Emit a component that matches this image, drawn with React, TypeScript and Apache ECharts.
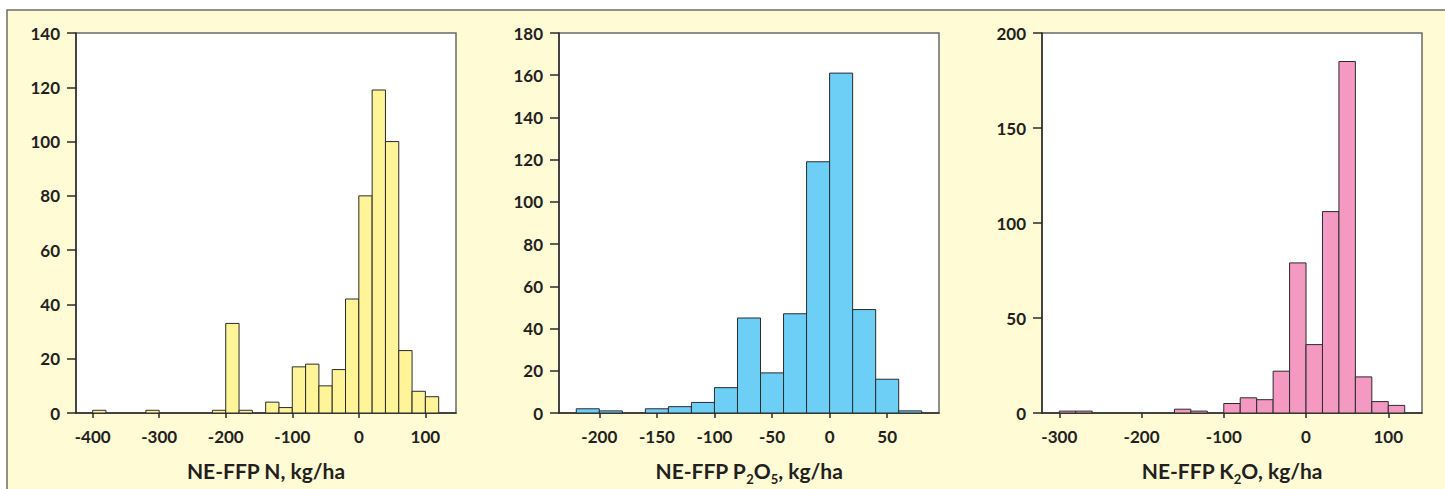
import React, { useEffect, useRef } from "react";
import * as echarts from "echarts";

const BIN = 20;

// Panel 1: N
const nBinStarts = [-400, -320, -220, -200, -180, -140, -120, -100, -80, -60, -40, -20, 0, 20, 40, 60, 80, 100];
const nCounts = [1, 1, 1, 33, 1, 4, 2, 17, 18, 10, 16, 42, 80, 119, 100, 23, 8, 6];
const nXTicks = [-400, -300, -200, -100, 0, 100];

// Panel 2: P2O5
const pBinStarts = [-220, -200, -160, -140, -120, -100, -80, -60, -40, -20, 0, 20, 40, 60];
const pCounts = [2, 1, 2, 3, 5, 12, 45, 19, 47, 119, 161, 49, 16, 1];
const pXTicks = [-200, -150, -100, -50, 0, 50];

// Panel 3: K2O
const kBinStarts = [-300, -280, -160, -140, -100, -80, -60, -40, -20, 0, 20, 40, 60, 80, 100];
const kCounts = [1, 1, 2, 1, 5, 8, 7, 22, 79, 36, 106, 185, 19, 6, 4];
const kXTicks = [-300, -200, -100, 0, 100];

const FONT = "Lato, 'Noto Sans', sans-serif";
const TXT = "#231f20";

export default function App() {
  const ref = useRef<HTMLDivElement>(null);

  useEffect(() => {
    if (!ref.current) return;
    const chart = echarts.init(ref.current, undefined, { renderer: "svg" });

    const panels = [
      { starts: nBinStarts, counts: nCounts, ticks: nXTicks, min: -425, max: 146, yMax: 140, yInt: 20, color: "#fff497", name: "NE-FFP N, kg/ha", left: 76 },
      { starts: pBinStarts, counts: pCounts, ticks: pXTicks, min: -235, max: 95, yMax: 180, yInt: 20, color: "#6dcff6", name: "NE-FFP P{s|2}O{s|5}, kg/ha", left: 559 },
      { starts: kBinStarts, counts: kCounts, ticks: kXTicks, min: -321, max: 141, yMax: 200, yInt: 50, color: "#f49ac2", name: "NE-FFP K{s|2}O, kg/ha", left: 1042 },
    ];

    const grid = panels.map((p) => ({
      left: p.left,
      top: 33,
      width: 380,
      height: 380,
      outerBoundsMode: "none",
      containLabel: false,
      show: true,
      backgroundColor: "#ffffff",
      borderColor: "#6a6a6a",
      borderWidth: 1.5,
    }));

    const xAxis = panels.map((p, i) => ({
      type: "value",
      gridIndex: i,
      min: p.min,
      max: p.max,
      name: p.name,
      nameLocation: "middle",
      nameGap: 42,
      nameTextStyle: {
        fontFamily: FONT,
        fontSize: 21,
        fontWeight: "bold",
        color: TXT,
        lineHeight: 30,
        rich: {
          s: { fontFamily: FONT, fontSize: 13, fontWeight: "bold", color: TXT, lineHeight: 10, verticalAlign: "bottom" },
        },
      },
      splitLine: { show: false },
      axisLine: { show: true, onZero: false, lineStyle: { color: "#2b2b2b", width: 1.5 } },
      axisTick: { show: true, length: 5, customValues: p.ticks, lineStyle: { color: "#2b2b2b", width: 1.5 } },
      axisLabel: { customValues: p.ticks, margin: 15, fontFamily: FONT, fontSize: 17, fontWeight: "bold", color: TXT },
    }));

    const yAxis = panels.map((p, i) => ({
      type: "value",
      gridIndex: i,
      min: 0,
      max: p.yMax,
      interval: p.yInt,
      splitLine: { show: false },
      axisLine: { show: true, onZero: false, lineStyle: { color: "#2b2b2b", width: 1.5 } },
      axisTick: { show: true, length: 9, lineStyle: { color: "#2b2b2b", width: 1.5 } },
      axisLabel: { margin: 16, fontFamily: FONT, fontSize: 17, fontWeight: "bold", color: TXT },
    }));

    const series = panels.map((p, i) => ({
      type: "custom",
      xAxisIndex: i,
      yAxisIndex: i,
      encode: { x: 0, y: 1 },
      data: p.starts.map((s, j) => [s, p.counts[j]]),
      renderItem: (params: any, api: any) => {
        const x0 = api.value(0);
        const c = api.value(1);
        const a = api.coord([x0, c]);
        const b = api.coord([x0 + BIN, 0]);
        return {
          type: "rect",
          shape: { x: a[0], y: a[1], width: b[0] - a[0], height: b[1] - a[1] },
          style: { fill: p.color, stroke: "#2b2b2b", lineWidth: 1 },
        };
      },
    }));

    chart.setOption({
      animation: false,
      backgroundColor: "#ffffff",
      graphic: [
        {
          type: "rect",
          z: -10,
          silent: true,
          shape: { x: 7, y: 10, width: 1460, height: 500 },
          style: { fill: "#fffbd5", stroke: "#6e6e66", lineWidth: 1.5 },
        },
      ],
      grid,
      xAxis,
      yAxis,
      series,
    });

    return () => chart.dispose();
  }, []);

  return (
    <div
      ref={ref}
      style={{ position: "fixed", left: 0, top: 0, width: 1445, height: 489 }}
    />
  );
}
